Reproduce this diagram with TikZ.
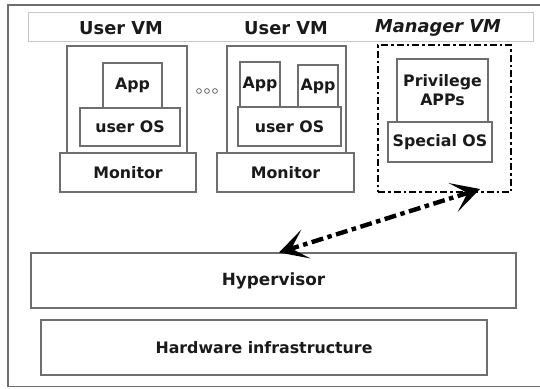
\documentclass[tikz,border=0pt]{standalone}
\usepackage{fontspec}
\setmainfont{DejaVu Sans}
\usetikzlibrary{arrows.meta}
\definecolor{edge}{HTML}{6E6E6E}
\definecolor{txt}{HTML}{1A1A1A}
\tikzset{
  box/.style={draw=edge, line width=1.3pt, fill=white, inner sep=0pt, align=center,
    font=\fontsize{15.8}{18}\selectfont\bfseries, text=txt},
  mgrbox/.style={draw=black, line width=2.8pt, dash pattern=on 7pt off 3pt on 2.5pt off 3pt, inner sep=0pt},
  hdr/.style={font=\fontsize{17.8}{20}\selectfont\bfseries, text=txt, inner sep=0pt},
  dblarrow/.style={line width=4.4pt, dash pattern=on 12pt off 4.5pt on 4.5pt off 4.5pt,
    {Stealth[length=28pt,width=30pt,inset=15pt]}-{Stealth[length=28pt,width=30pt,inset=15pt]}},
}
\begin{document}
\begin{tikzpicture}[x=1pt,y=-1pt]
\useasboundingbox (0,0) rectangle (540,388);
% outer frame
\draw[edge, line width=1.3pt] (540,5) -- (8,5) -- (8,386.5) -- (540,386.5);
% header band
\draw[draw=black!22, line width=1pt] (28,12) rectangle (533,41);
\node[hdr] (h1) at (121,28) {User VM};
\node[hdr] (h2) at (286,28) {User VM};
\node[hdr, font=\fontsize{17.8}{20}\selectfont\bfseries\itshape] (h3) at (438,28) {Manager VM};
% user VM 1
\node[box, minimum width=120pt, minimum height=107pt] (vm1) at (127,99.5) {};
\node[box, minimum width=136pt, minimum height=39pt] (mon1) at (128,172.5) {Monitor};
\node[box, minimum width=59pt, minimum height=45pt] (app1) at (132.5,85.5) {App};
\node[box, minimum width=100pt, minimum height=38pt] (os1) at (130,127) {user OS};
% dots
\foreach \i/\x in {1/199,2/207,3/215}
  \draw[black!60, line width=0.8pt] (\x,91) circle (2.4pt) coordinate (dot\i);
% user VM 2
\node[box, minimum width=119pt, minimum height=107pt] (vm2) at (286.5,99.5) {};
\node[box, minimum width=137pt, minimum height=39pt] (mon2) at (285.5,172.5) {Monitor};
\node[box, minimum width=40pt, minimum height=45pt] (app2a) at (260,84.5) {App};
\node[box, minimum width=40pt, minimum height=42pt] (app2b) at (318,86) {App};
\node[box, minimum width=103pt, minimum height=39pt] (os2) at (289.5,126.5) {user OS};
% manager VM
\node[mgrbox, minimum width=133pt, minimum height=147pt] (mgr) at (444.5,118.5) {};
\node[box, minimum width=91pt, minimum height=63pt, font=\fontsize{15.8}{19}\selectfont\bfseries] (priv) at (442.5,90.5) {Privilege\\APPs};
\node[box, minimum width=104pt, minimum height=40pt] (sos) at (440,142) {Special OS};
% hypervisor and hardware
\node[box, minimum width=485pt, minimum height=55pt, font=\fontsize{16.8}{19}\selectfont\bfseries] (hyp) at (273.5,280.5) {Hypervisor};
\node[box, minimum width=446pt, minimum height=55pt] (hw) at (264,347.5) {Hardware infrastructure};
% arrow
\coordinate (a1) at (480,189);
\coordinate (a2) at (279,252.5);
\draw[dblarrow] (a1) -- (a2);
\end{tikzpicture}
\end{document}
